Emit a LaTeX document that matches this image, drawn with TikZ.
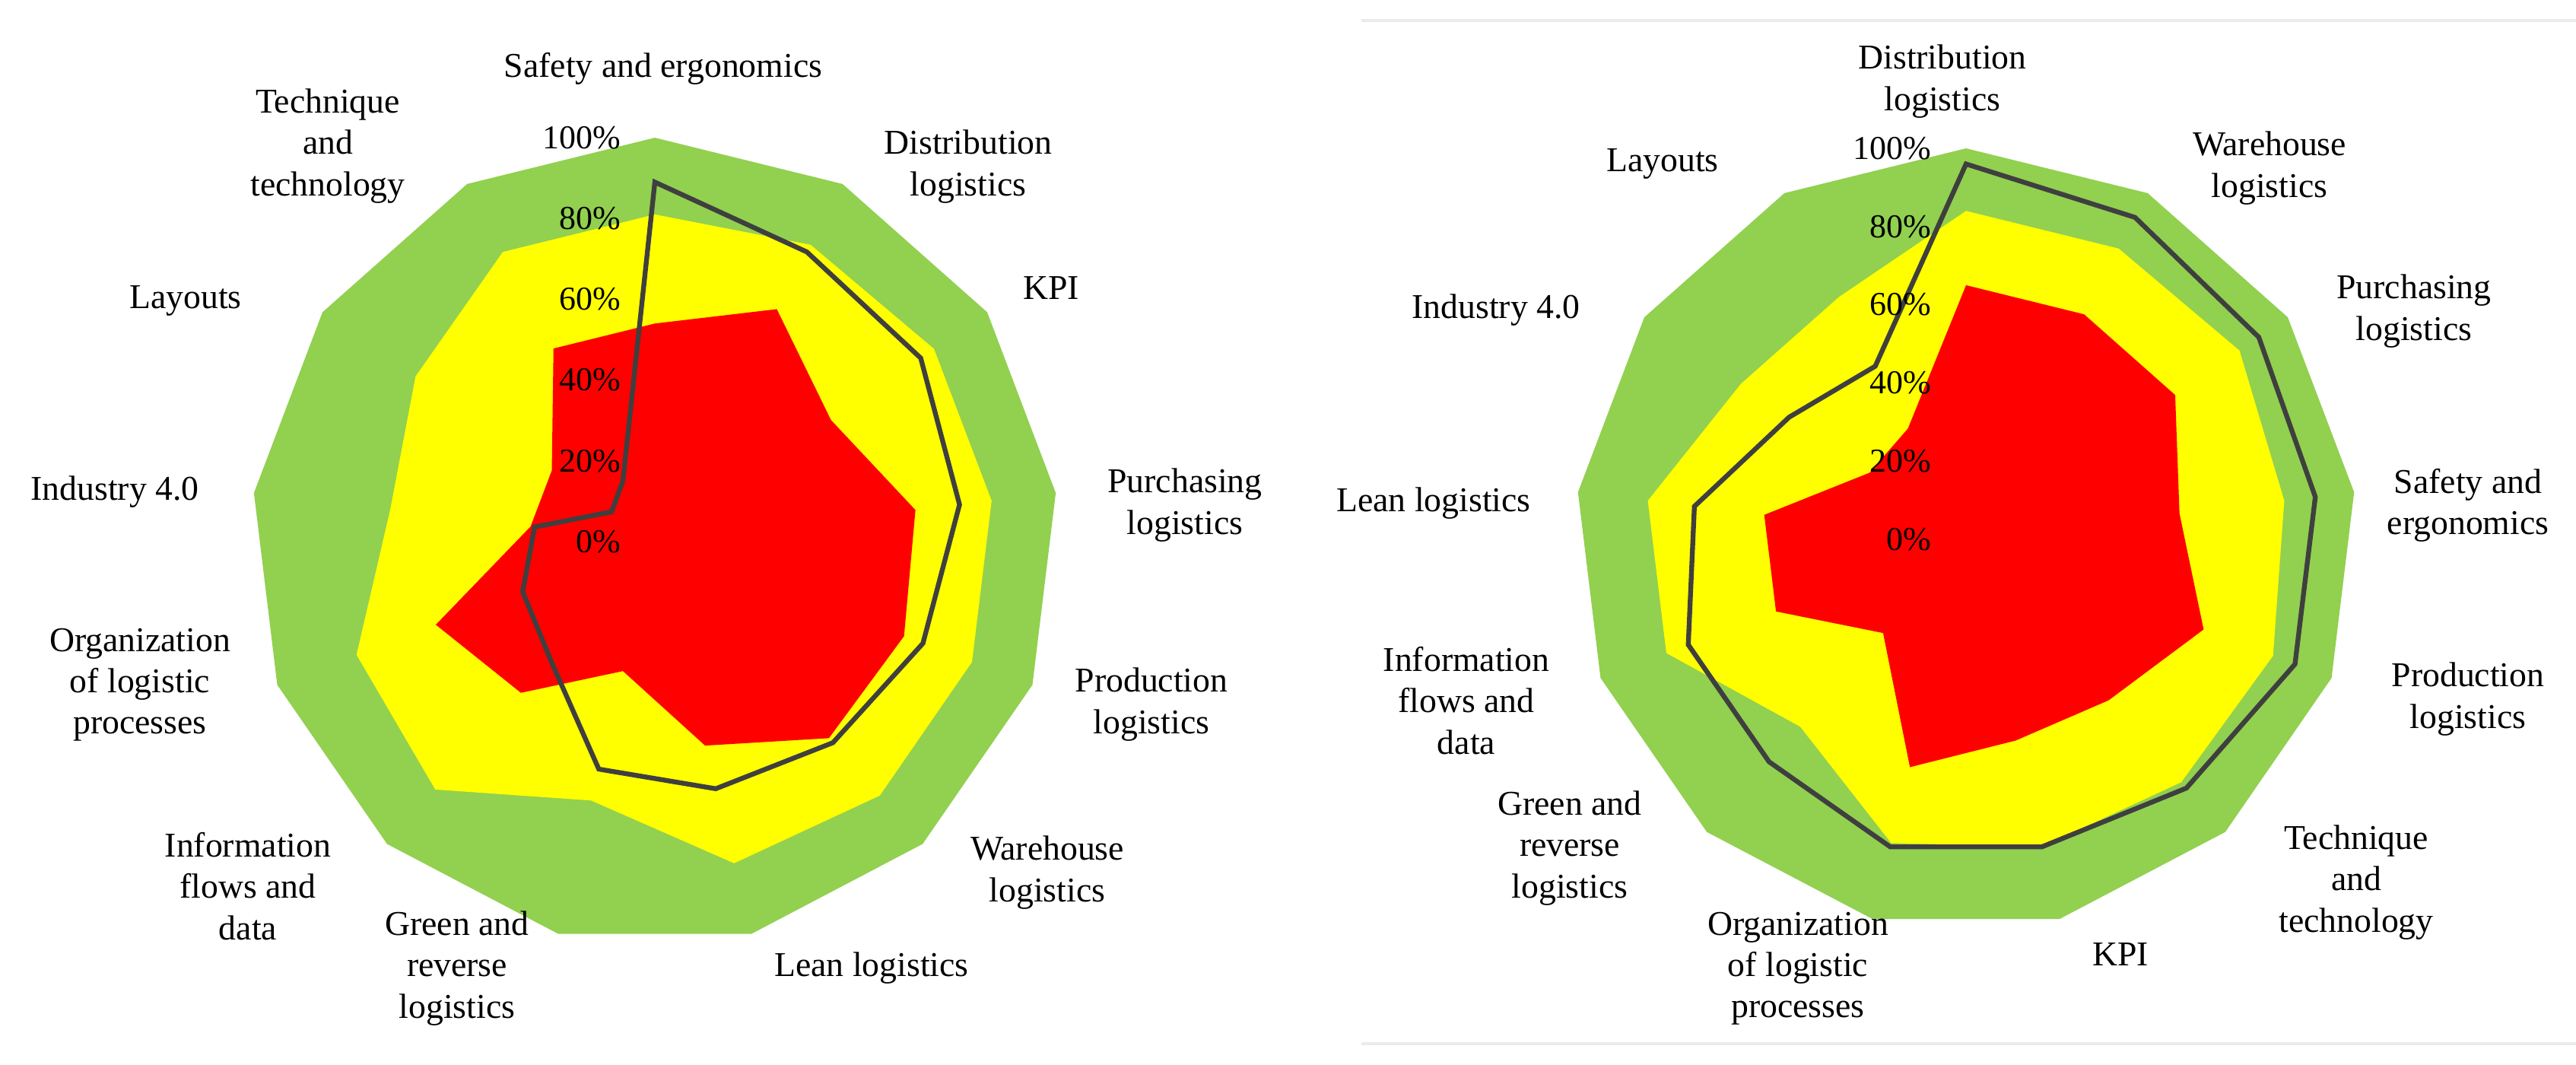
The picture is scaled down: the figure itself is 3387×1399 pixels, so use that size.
\documentclass[tikz,border=0pt]{standalone}
\usepackage{fontspec}
\setmainfont{Liberation Serif}
\definecolor{rgreen}{HTML}{92D050}
\definecolor{ryellow}{HTML}{FFFF00}
\definecolor{rred}{HTML}{FF0000}
\definecolor{rline}{HTML}{3F3F3F}
\tikzset{
  lab/.style={align=center,font=\fontsize{13}{15.4}\selectfont,inner sep=0pt},
  pct/.style={anchor=east,font=\fontsize{12.5}{14}\selectfont,inner sep=0pt},
  blk/.style={draw=rline,line width=1.8pt,line join=miter},
}
\begin{document}
\begin{tikzpicture}[x=0.01cm,y=-0.01cm]
\useasboundingbox (0,0) rectangle (3387,1399);
% ---------- LEFT ----------
\begin{scope}[shift={(861,712)}]
\def\R{531}
\fill[rgreen] (-90:\R) \foreach \i in {1,...,12}{ -- ({\i*360/13-90}:\R)} -- cycle;
\fill[ryellow] (-90:{0.81*\R}) \foreach \v [count=\i] in {0.83,0.84,0.84,0.84,0.84,0.82,0.66,0.82,0.79,0.66,0.72,0.81}{ -- ({\i*360/13-90}:{\v*\R})} -- cycle;
\fill[rred] (-90:{0.54*\R}) \foreach \v [count=\i] in {0.65,0.53,0.65,0.66,0.65,0.52,0.33,0.50,0.58,0.31,0.31,0.54}{ -- ({\i*360/13-90}:{\v*\R})} -- cycle;
\draw[blk] (-90:{0.89*\R}) \foreach \v [count=\i] in {0.81,0.80,0.76,0.71,0.665,0.63,0.58,0.39,0.35,0.30,0.13,0.17}{ -- ({\i*360/13-90}:{\v*\R})} -- cycle;
\foreach \p [count=\j from 0] in {0,20,40,60,80,100}
  \node[pct] (lp\p) at (-44,{-\j*0.2*\R}) {\p\%};
\end{scope}
\node[lab] (l0) at (872,90) {Safety and ergonomics};
\node[lab] (l1) at (1273,219) {Distribution\\logistics};
\node[lab] (l2) at (1382,379) {KPI};
\node[lab] (l3) at (1558,664) {Purchasing\\logistics};
\node[lab] (l4) at (1514,926) {Production\\logistics};
\node[lab] (l5) at (1377,1147) {Warehouse\\logistics};
\node[lab] (l6) at (1146,1273) {Lean logistics};
\node[lab] (l7) at (601,1273) {Green and\\reverse\\logistics};
\node[lab] (l8) at (326,1165) {Information\\flows and\\data};
\node[lab] (l9) at (184,900) {Organization\\of logistic\\processes};
\node[lab] (l10) at (151,647) {Industry 4.0};
\node[lab] (l11) at (244,395) {Layouts};
\node[lab] (l12) at (431,192) {Technique\\and\\technology};
% ---------- RIGHT ----------
\draw[black!8,line width=1pt] (1790,27) -- (3387,27);
\draw[black!8,line width=1pt] (1790,1372) -- (3387,1372);
\begin{scope}[shift={(2585,709)}]
\def\R{514}
\fill[rgreen] (-90:\R) \foreach \i in {1,...,12}{ -- ({\i*360/13-90}:\R)} -- cycle;
\fill[ryellow] (-90:{0.84*\R}) \foreach \v [count=\i] in {0.84,0.85,0.82,0.84,0.83,0.81,0.80,0.64,0.82,0.82,0.70,0.70}{ -- ({\i*360/13-90}:{\v*\R})} -- cycle;
\fill[rred] (-90:{0.65*\R}) \foreach \v [count=\i] in {0.65,0.65,0.55,0.65,0.55,0.53,0.60,0.32,0.52,0.52,0.30,0.32}{ -- ({\i*360/13-90}:{\v*\R})} -- cycle;
\draw[blk] (-90:{0.96*\R}) \foreach \v [count=\i] in {0.93,0.91,0.90,0.90,0.85,0.81,0.81,0.76,0.76,0.70,0.55,0.50}{ -- ({\i*360/13-90}:{\v*\R})} -- cycle;
\foreach \p [count=\j from 0] in {0,20,40,60,80,100}
  \node[pct] (rp\p) at (-45,{-\j*0.2*\R}) {\p\%};
\end{scope}
\node[lab] (r0) at (2554,107) {Distribution\\logistics};
\node[lab] (r1) at (2984,221) {Warehouse\\logistics};
\node[lab] (r2) at (3174,409) {Purchasing\\logistics};
\node[lab] (r3) at (3245,664) {Safety and\\ergonomics};
\node[lab] (r4) at (3245,919) {Production\\logistics};
\node[lab] (r5) at (3098,1160) {Technique\\and\\technology};
\node[lab] (r6) at (2788,1255) {KPI};
\node[lab] (r7) at (2364,1273) {Organization\\of logistic\\processes};
\node[lab] (r8) at (2064,1115) {Green and\\reverse\\logistics};
\node[lab] (r9) at (1928,921) {Information\\flows and\\data};
\node[lab] (r10) at (1885,662) {Lean logistics};
\node[lab] (r11) at (1967,408) {Industry 4.0};
\node[lab] (r12) at (2186,215) {Layouts};
\end{tikzpicture}
\end{document}
